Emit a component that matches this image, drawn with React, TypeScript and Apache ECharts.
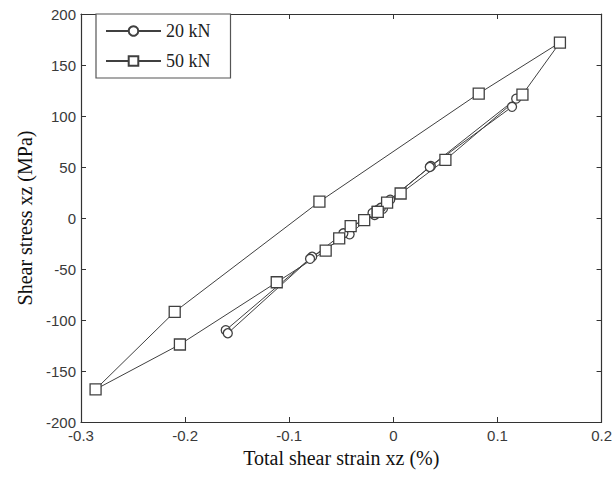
import React, { useEffect, useRef } from "react";
import * as echarts from "echarts";

const xTicks = [-0.3, -0.2, -0.1, 0, 0.1, 0.2];
const yTicks = [-200, -150, -100, -50, 0, 50, 100, 150, 200];

const series20Name = "20 kN";
const series20X = [-0.018, -0.01, -0.003, 0.036, 0.118, 0.114, 0.035, -0.015, -0.042, -0.078, -0.161, -0.159, -0.08, -0.048, -0.02, -0.012];
const series20Y = [3, 9, 18, 51, 117, 109, 50, 8, -16, -38, -110, -113, -40, -15, 5, 10];

const series50Name = "50 kN";
const series50X = [-0.015, -0.006, 0.007, 0.05, 0.124, 0.16, 0.082, -0.071, -0.21, -0.286, -0.205, -0.112, -0.065, -0.052, -0.041, -0.028, -0.015];
const series50Y = [6, 15, 24, 57, 121, 172, 122, 16, -92, -168, -124, -63, -32, -20, -8, -2, 6];

const xTitle = "Total shear strain xz (%)";
const yTitle = "Shear stress xz (MPa)";

export default function App() {
  const ref = useRef<HTMLDivElement>(null);
  useEffect(() => {
    document.body.style.margin = "0";
    if (!ref.current) return;
    const chart = echarts.init(ref.current, undefined, { renderer: "svg" });
    const axisColor = "#333";
    const lineColor = "#404040";
    const tickFont = { fontFamily: "Liberation Sans", fontSize: 15, color: "#3a3a3a" };
    const fmt = (v: number) => String(Math.round(v * 10) / 10);
    const zip = (xs: number[], ys: number[]) => xs.map((x, i) => [x, ys[i]]);
    chart.setOption({
      animation: false,
      backgroundColor: "#fff",
      grid: { left: 81, right: 12, top: 14, bottom: 57, containLabel: false },
      legend: {
        left: 96,
        top: 14,
        orient: "vertical",
        padding: [8, 20, 8, 9],
        itemGap: 12,
        itemWidth: 55,
        itemHeight: 12,
        itemTextGap: 9,
        borderColor: "#555",
        borderWidth: 1.2,
        backgroundColor: "#fff",
        textStyle: { fontFamily: "Liberation Serif", fontSize: 18, color: "#222" },
        data: [series20Name, series50Name],
      },
      xAxis: [
        {
          type: "value",
          min: xTicks[0],
          max: xTicks[xTicks.length - 1],
          interval: 0.1,
          name: xTitle,
          nameLocation: "middle",
          nameGap: 26,
          nameTextStyle: { fontFamily: "Liberation Serif", fontSize: 20, color: "#111" },
          axisLine: { onZero: false, lineStyle: { color: axisColor, width: 1.2 } },
          axisTick: { inside: true, length: 5, lineStyle: { color: axisColor } },
          axisLabel: { ...tickFont, margin: 6, formatter: fmt },
          splitLine: { show: false },
        },
        {
          type: "value",
          position: "top",
          min: xTicks[0],
          max: xTicks[xTicks.length - 1],
          interval: 0.1,
          axisLine: { onZero: false, lineStyle: { color: axisColor, width: 1.2 } },
          axisTick: { inside: true, length: 5, lineStyle: { color: axisColor } },
          axisLabel: { show: false },
          splitLine: { show: false },
        },
      ],
      yAxis: [
        {
          type: "value",
          min: yTicks[0],
          max: yTicks[yTicks.length - 1],
          interval: 50,
          name: yTitle,
          nameLocation: "middle",
          nameGap: 45,
          nameTextStyle: { fontFamily: "Liberation Serif", fontSize: 20, color: "#111" },
          axisLine: { onZero: false, lineStyle: { color: axisColor, width: 1.2 } },
          axisTick: { inside: true, length: 5, lineStyle: { color: axisColor } },
          axisLabel: { ...tickFont, margin: 5 },
          splitLine: { show: false },
        },
        {
          type: "value",
          position: "right",
          min: yTicks[0],
          max: yTicks[yTicks.length - 1],
          interval: 50,
          axisLine: { onZero: false, lineStyle: { color: axisColor, width: 1.2 } },
          axisTick: { inside: true, length: 5, lineStyle: { color: axisColor } },
          axisLabel: { show: false },
          splitLine: { show: false },
        },
      ],
      series: [
        {
          name: series20Name,
          type: "line",
          xAxisIndex: 0,
          yAxisIndex: 0,
          data: zip(series20X, series20Y),
          symbol: "circle",
          symbolSize: 9,
          showAllSymbol: true,
          lineStyle: { color: lineColor, width: 1 },
          itemStyle: { color: "#fff", borderColor: lineColor, borderWidth: 1.3 },
        },
        {
          name: series50Name,
          type: "line",
          xAxisIndex: 0,
          yAxisIndex: 0,
          data: zip(series50X, series50Y),
          symbol: "rect",
          symbolSize: 11,
          showAllSymbol: true,
          lineStyle: { color: lineColor, width: 1 },
          itemStyle: { color: "#fff", borderColor: lineColor, borderWidth: 1.3 },
        },
      ],
    });
    return () => chart.dispose();
  }, []);
  return <div ref={ref} style={{ width: 615, height: 479 }} />;
}
